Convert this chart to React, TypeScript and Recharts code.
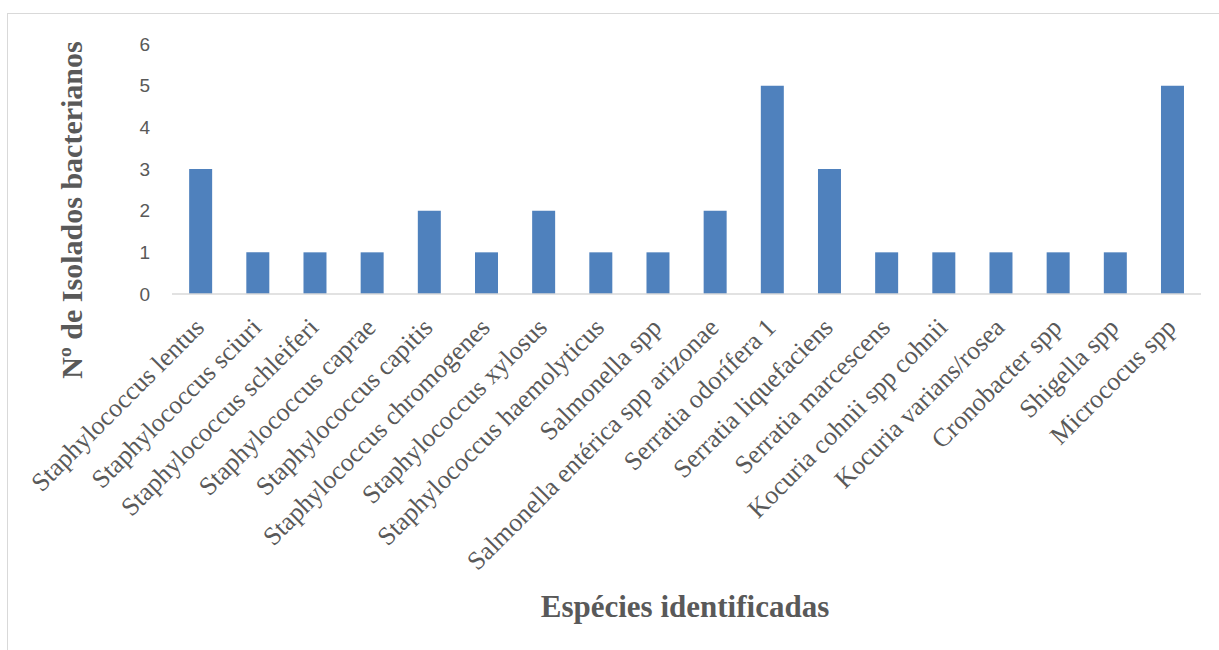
import { Bar, BarChart, Label, XAxis, YAxis } from "recharts";

const species = [
  "Staphylococcus lentus",
  "Staphylococcus sciuri",
  "Staphylococcus schleiferi",
  "Staphylococcus caprae",
  "Staphylococcus capitis",
  "Staphylococcus chromogenes",
  "Staphylococcus xylosus",
  "Staphylococcus haemolyticus",
  "Salmonella spp",
  "Salmonella entérica spp arizonae",
  "Serratia odorífera 1",
  "Serratia liquefaciens",
  "Serratia marcescens",
  "Kocuria cohnii spp cohnii",
  "Kocuria varians/rosea",
  "Cronobacter spp",
  "Shigella spp",
  "Micrococus spp",
];

const isolates = [3, 1, 1, 1, 2, 1, 2, 1, 1, 2, 5, 3, 1, 1, 1, 1, 1, 5];

const yTicks = [0, 1, 2, 3, 4, 5, 6];

const data = species.map((name, i) => ({ name, value: isolates[i] }));

const serif = "'Liberation Serif', 'Times New Roman', serif";
const gray = "#595959";

function SpeciesTick(props: any) {
  const { x, y, payload } = props;
  const tx = x + 5;
  const ty = y + 35;
  return (
    <text
      x={tx}
      y={ty}
      transform={`rotate(-45 ${tx} ${ty})`}
      textAnchor="end"
      fill={gray}
      fontFamily={serif}
      fontSize={26}
    >
      {payload.value}
    </text>
  );
}

export default function App() {
  return (
    <div style={{ position: "fixed", left: 0, top: 0, width: 1219, height: 650, overflow: "hidden", background: "#fff" }}>
      <div
        style={{
          position: "absolute",
          left: 7,
          top: 13,
          width: 1300,
          height: 700,
          border: "1px solid #d9d9d9",
        }}
      />
      <div style={{ position: "absolute", left: 0, top: 0 }}>
        <BarChart
          width={1219}
          height={650}
          data={data}
          margin={{ top: 44, right: 18, left: 0, bottom: 0 }}
          barCategoryGap="30%"
        >
          <XAxis
            dataKey="name"
            height={356}
            interval={0}
            tickLine={false}
            tickSize={0}
            tickMargin={0}
            axisLine={{ stroke: "#d9d9d9", strokeWidth: 1.5 }}
            tick={<SpeciesTick />}
          >
            <Label
              content={() => (
                <text
                  x={685}
                  y={617}
                  textAnchor="middle"
                  fill={gray}
                  fontFamily={serif}
                  fontWeight="bold"
                  fontSize={31}
                >
                  Espécies identificadas
                </text>
              )}
            />
          </XAxis>
          <YAxis
            width={172}
            domain={[0, 6]}
            ticks={yTicks}
            axisLine={false}
            tickLine={false}
            tickSize={0}
            tickMargin={22}
            tick={{ fill: gray, fontSize: 19, fontFamily: "'Liberation Sans', Arial, sans-serif" }}
          >
            <Label
              content={() => (
                <text
                  x={82}
                  y={210}
                  transform="rotate(-90 82 210)"
                  textAnchor="middle"
                  fill={gray}
                  fontFamily={serif}
                  fontWeight="bold"
                  fontSize={30}
                >
                  Nº de Isolados bacterianos
                </text>
              )}
            />
          </YAxis>
          <Bar dataKey="value" fill="#4F81BD" isAnimationActive={false} />
        </BarChart>
      </div>
    </div>
  );
}
